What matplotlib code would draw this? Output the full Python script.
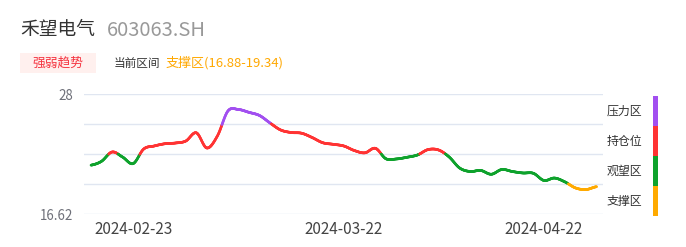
import numpy as np
import matplotlib
matplotlib.use('Agg')
import matplotlib.pyplot as plt
from matplotlib.collections import LineCollection
from matplotlib.patches import Rectangle

plt.rcParams['font.family'] = ['Noto Sans CJK SC', 'DejaVu Sans']

# stock and zone info
name = '禾望电气'
code = '603063.SH'
current_zone = '支撑区(16.88-19.34)'

# daily values (Feb 19 .. Apr 29)
values = [21.25, 21.62, 22.50, 22.02, 21.40, 22.78, 23.07, 23.28, 23.35, 23.54,
          24.32, 22.88, 24.02, 26.39, 26.53, 26.26, 25.96, 25.25, 24.59, 24.35,
          24.28, 23.87, 23.38, 23.23, 23.07, 22.64, 22.42, 22.85, 21.86, 21.84,
          22.00, 22.22, 22.73, 22.69, 22.03, 20.98, 20.65, 20.75, 20.39, 20.84,
          20.65, 20.51, 20.48, 19.80, 20.03, 19.66, 19.09, 18.94, 19.21]
tick_index = [4, 24, 43]
tick_labels = ['2024-02-23', '2024-03-22', '2024-04-22']

y_min, y_max = 16.62, 28
zone_names = ['压力区', '持仓位', '观望区', '支撑区']
zone_colors = ['#a24ff0', '#ff3333', '#0ea22c', '#ffaa00']
zone_bounds = [25.155, 22.31, 19.465]   # purple/red, red/green, green/orange

W, H = 686, 247
fig = plt.figure(figsize=(W / 100, H / 100), dpi=100)


def fx(px):
    return px / W


def fy(py):
    return 1 - py / H


# header
fig.text(fx(20), fy(30), name, fontsize=13.5, color='#333333', va='center')
fig.text(fx(107), fy(30), code, fontsize=14.5, color='#999999', va='center')
fig.patches.append(Rectangle((fx(20), fy(73.5)), fx(76), 20 / H, transform=fig.transFigure,
                             facecolor='#fff0ee', edgecolor='none'))
fig.text(fx(58), fy(63), '强弱趋势', fontsize=9.2, color='#f5333f', va='center', ha='center')
fig.text(fx(114), fy(63), '当前区间', fontsize=8.4, color='#333333', va='center')
fig.text(fx(166), fy(63), current_zone, fontsize=9.4, color='#ffa800', va='center')

# main axes
ax = fig.add_axes([fx(84), fy(214), 519 / W, 120 / H])
n = len(values)
x = np.arange(n)
ax.set_xlim(-7 / 10.54, n - 1 + 6.4 / 10.54)
ax.set_ylim(y_min, y_max)

for yy in np.linspace(y_min, y_max, 5):
    ax.axhline(yy, color='#e0e6f1', lw=1, zorder=0)

# smooth curve (catmull-rom) through the data, coloured by zone
xs, ys = [], []
v = np.array(values)
pts = np.concatenate([[v[0]], v, [v[-1]]])
for i in range(n - 1):
    p0, p1, p2, p3 = pts[i], pts[i + 1], pts[i + 2], pts[i + 3]
    t = np.linspace(0, 1, 25, endpoint=False)
    yv = 0.5 * ((2 * p1) + (-p0 + p2) * t + (2 * p0 - 5 * p1 + 4 * p2 - p3) * t ** 2
                + (-p0 + 3 * p1 - 3 * p2 + p3) * t ** 3)
    xs.extend(i + t)
    ys.extend(yv)
xs.append(n - 1)
ys.append(v[-1])
xs = np.array(xs)
ys = np.array(ys)

segs = np.stack([np.column_stack([xs[:-1], ys[:-1]]), np.column_stack([xs[1:], ys[1:]])], axis=1)
mid = (ys[:-1] + ys[1:]) / 2
cols = np.where(mid > zone_bounds[0], zone_colors[0],
                np.where(mid > zone_bounds[1], zone_colors[1],
                         np.where(mid > zone_bounds[2], zone_colors[2], zone_colors[3])))
lc = LineCollection(segs, colors=cols, linewidths=1.9, capstyle='round', joinstyle='round')
ax.add_collection(lc)

ax.set_yticks([y_min, y_max])
ax.set_yticklabels(['16.62', '28'])
ax.set_xticks(tick_index)
ax.set_xticklabels(tick_labels)
ax.tick_params(axis='y', length=0, pad=8, labelsize=9.6, labelcolor='#6e7079')
ax.tick_params(axis='x', length=0, pad=5, labelsize=11, labelcolor='#444444')
for s in ax.spines.values():
    s.set_visible(False)

# zone legend on the right
for k, (zn, zc) in enumerate(zip(zone_names, zone_colors)):
    top = 96 + 30 * k
    fig.text(fx(607), fy(top + 15), zn, fontsize=8.6, color='#333333', va='center')
    fig.patches.append(Rectangle((fx(653), fy(top + 30)), 4.5 / W, 30 / H,
                                 transform=fig.transFigure, facecolor=zc, edgecolor='none'))

fig.savefig('out.png', dpi=100)
